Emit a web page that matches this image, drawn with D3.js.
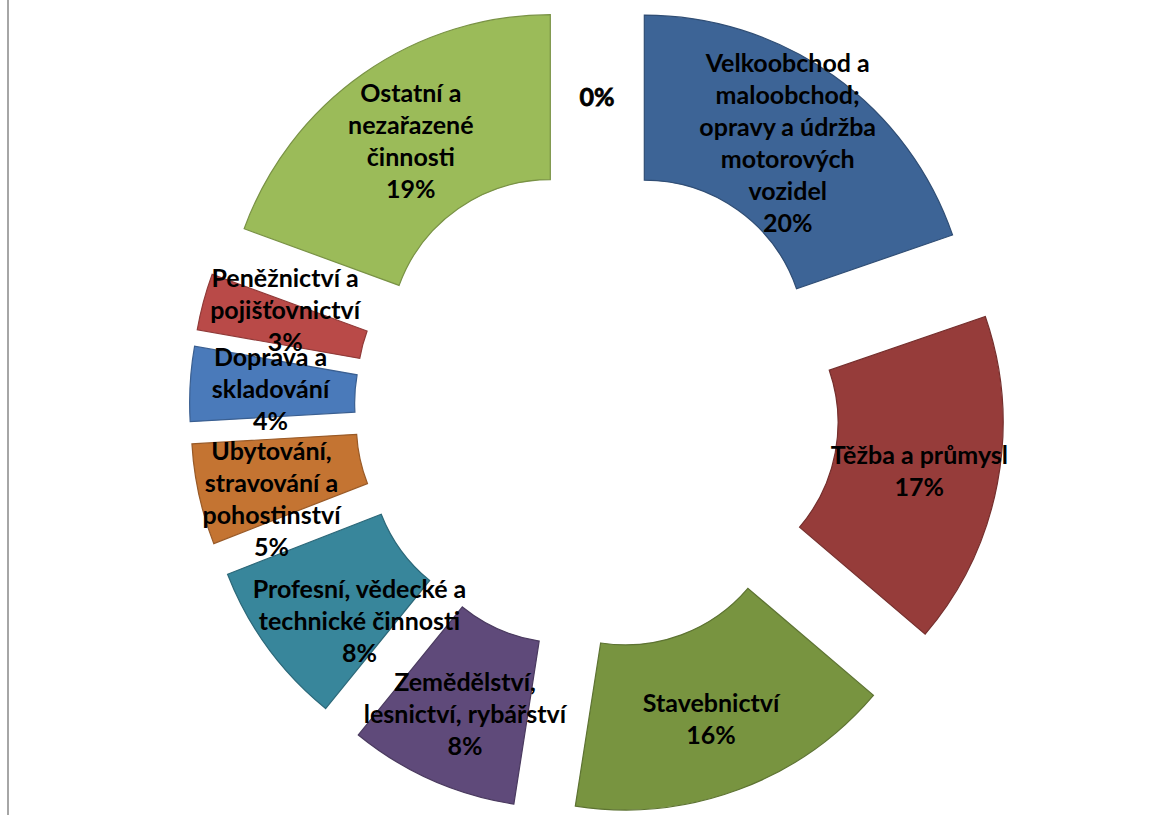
<!DOCTYPE html>
<html>
<head>
<meta charset="utf-8">
<script src="https://cdn.jsdelivr.net/npm/d3@7"></script>
<style>
  body { margin: 0; background: #fff; }
  text { font-family: Lato, "Liberation Sans", sans-serif; font-weight: bold; }
</style>
</head>
<body>
<div id="chart"></div>
<script>
// categories as wrapped in the original labels
var categories = [
	"Velkoobchod a\nmaloobchod;\nopravy a údržba\nmotorových\nvozidel",
	"Těžba a průmysl",
	"Stavebnictví",
	"Zemědělství,\nlesnictví, rybářství",
	"Profesní, vědecké a\ntechnické činnosti",
	"Ubytování,\nstravování a\npohostinství",
	"Doprava a\nskladování",
	"Peněžnictví a\npojišťovnictví",
	"Ostatní a\nnezařazené\nčinnosti",
	""
];
// share of each sector (percent)
var shares = [19.7, 16.5, 16.2, 8.4, 8.2, 5.0, 3.7, 2.8, 19.4, 0];

var colors = ["#3d6496", "#963c3a", "#789440", "#5f4a7a", "#38869b",
	"#c47432", "#4a7aba", "#b94a48", "#9bbb59", "#4f81bd"];
// small label shifts, excel moved a few labels so they don't collide
var labelNudge = [[2,0],[3,3],[1,7],[0,10],[25,22],[-8,22],[-2,1],[2,-13],[0,0],[0,15]];

var width = 1156, height = 815;
var cx = 597, cy = 407.5;
var outerR = 326, innerR = 161, explode = 81.5;
var lineH = 32;

var svg = d3.select('#chart').append('svg')
	.attr('width', width)
	.attr('height', height);

// left border of the chart area
svg.append('line')
	.attr('x1', 8).attr('x2', 8)
	.attr('y1', 0).attr('y2', height)
	.attr('stroke', '#888')
	.attr('stroke-width', 1.5);

var total = d3.sum(shares);
var data = shares.map(function(v, i) {
	return {name: categories[i], value: v, i: i};
});

var pie = d3.pie().sort(null).value(function(d) { return d.value; });
var arc = d3.arc().innerRadius(innerR).outerRadius(outerR);
var arcs = pie(data);

var g = svg.append('g').attr('transform', 'translate(' + cx + ',' + cy + ')');

function mid(d) { return (d.startAngle + d.endAngle) / 2; }

g.selectAll('path.slice')
	.data(arcs.filter(function(d) { return d.data.value > 0; }))
	.enter().append('path')
	.attr('class', 'slice')
	.attr('d', arc)
	.attr('transform', function(d) {
		var a = mid(d);
		return 'translate(' + (explode * Math.sin(a)) + ',' + (-explode * Math.cos(a)) + ')';
	})
	.attr('fill', function(d) { return colors[d.data.i]; })
	.attr('stroke', function(d) { return d3.color(colors[d.data.i]).darker(0.7); })
	.attr('stroke-width', 1.2);

var labelR = explode + (innerR + outerR) / 2;
var labels = g.selectAll('text.lbl')
	.data(arcs)
	.enter().append('text')
	.attr('class', 'lbl')
	.attr('text-anchor', 'middle')
	.attr('font-size', 25)
	.attr('fill', '#000')
	.attr('transform', function(d) {
		var a = mid(d), n = labelNudge[d.data.i];
		return 'translate(' + (labelR * Math.sin(a) + n[0]) + ',' + (-labelR * Math.cos(a) + n[1]) + ')';
	});

labels.each(function(d) {
	var lines = d.data.name ? d.data.name.split('\n') : [];
	lines.push(Math.round(d.data.value / total * 100) + '%');
	var t = d3.select(this);
	lines.forEach(function(l, k) {
		t.append('tspan')
			.attr('x', 0)
			.attr('y', (k - (lines.length - 1) / 2) * lineH)
			.attr('dy', '0.35em')
			.text(l);
	});
	if (!d.data.name) {
		t.attr('stroke', '#000').attr('stroke-width', 0.8);
	}
});
</script>
</body>
</html>
